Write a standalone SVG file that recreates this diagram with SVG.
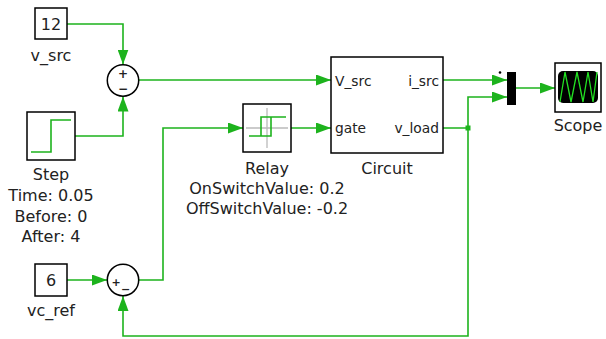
<svg xmlns="http://www.w3.org/2000/svg" width="606" height="339" viewBox="0 0 606 339">
<style>
.blk{fill:#fff;stroke:#000;stroke-width:1.5}
.w{fill:none;stroke:#1db31d;stroke-width:1.6}
.g{fill:none;stroke:#1db31d;stroke-width:1.6}
text{font-family:"DejaVu Sans","Liberation Sans",Arial,sans-serif;font-size:16px;fill:#222;text-anchor:middle}
.port{font-size:13.8px;text-anchor:start}
.pr{font-size:13.8px;text-anchor:end}
.sg{font-size:12px;font-weight:bold}
.sg2{font-size:11px;font-weight:bold}
</style>
<defs>
<marker id="ah" markerUnits="userSpaceOnUse" markerWidth="15" markerHeight="11" refX="15" refY="5.5" orient="auto">
<path d="M0,0 L15,5.5 L0,11 z" fill="#1db31d"/>
</marker>
</defs>
<rect width="606" height="339" fill="#fff"/>
<g id="connectors">
<path class="w" d="M67,24 H123 V64.5" marker-end="url(#ah)"/>
<path class="w" d="M75,136 H123 V96.5" marker-end="url(#ah)"/>
<path class="w" d="M139,80 H331" marker-end="url(#ah)"/>
<path class="w" d="M443,80 H507" marker-end="url(#ah)"/>
<path class="w" d="M443,128 H468 V97 H507" marker-end="url(#ah)"/>
<path class="w" d="M468,128 V336 H123 V296" marker-end="url(#ah)"/>
<rect x="465.5" y="125.5" width="5" height="5" fill="#1db31d"/>
<path class="w" d="M516,88 H555" marker-end="url(#ah)"/>
<path class="w" d="M67,280 H107" marker-end="url(#ah)"/>
<path class="w" d="M139,280 H163 V128 H243" marker-end="url(#ah)"/>
<path class="w" d="M291,128 H331" marker-end="url(#ah)"/>
</g>
<g id="v_src">
<rect class="blk" x="35" y="8" width="32" height="31"/>
<text x="51" y="30">12</text>
<text x="51" y="61">v_src</text>
</g>
<g id="sum1">
<circle class="blk" cx="123" cy="80.5" r="15.7"/>
<text class="sg" x="123" y="78">+</text>
<text class="sg" x="123" y="93">−</text>
</g>
<g id="step">
<rect class="blk" x="27" y="112" width="48" height="48"/>
<path class="g" d="M31,152 H51 V120 H71"/>
<text x="51" y="180">Step</text>
<text x="51" y="201">Time: 0.05</text>
<text x="51" y="221.5">Before: 0</text>
<text x="51" y="242">After: 4</text>
</g>
<g id="relay">
<rect class="blk" x="243" y="104" width="48" height="48"/>
<path d="M267,108 V148 M246,128 H288" stroke="#bbb" stroke-width="1.3" fill="none"/>
<path class="g" d="M249,136 H271 V117 M261,136 V117 H286"/>
<text x="267" y="174">Relay</text>
<text x="267" y="193.5">OnSwitchValue: 0.2</text>
<text x="267" y="213.5">OffSwitchValue: -0.2</text>
</g>
<g id="circuit">
<rect class="blk" x="331" y="57" width="112" height="96"/>
<text class="port" x="335" y="86">V_src</text>
<text class="port" x="335" y="133">gate</text>
<text class="pr" x="439" y="86">i_src</text>
<text class="pr" x="439" y="133">v_load</text>
<text x="387" y="174">Circuit</text>
</g>
<g id="mux">
<rect x="507" y="72" width="9" height="33" fill="#000"/>
<circle cx="500" cy="72.5" r="1.3" fill="#000"/>
</g>
<g id="scope">
<rect class="blk" x="555" y="63" width="46" height="49"/>
<rect x="558" y="71" width="40" height="32" rx="5" fill="#000"/>
<polyline points="560,102 565,72 571,102 577,72 583,102 588,72 593,102 597,72" fill="none" stroke="#22e022" stroke-width="1.3"/>
<text x="578" y="131">Scope</text>
</g>
<g id="vc_ref">
<rect class="blk" x="35" y="264" width="32" height="32"/>
<text x="51" y="286">6</text>
<text x="51" y="316">vc_ref</text>
</g>
<g id="sum2">
<circle class="blk" cx="123" cy="280" r="15.7"/>
<text class="sg2" x="116" y="285.5">+</text>
<text class="sg2" x="125.5" y="293">−</text>
</g>
</svg>
